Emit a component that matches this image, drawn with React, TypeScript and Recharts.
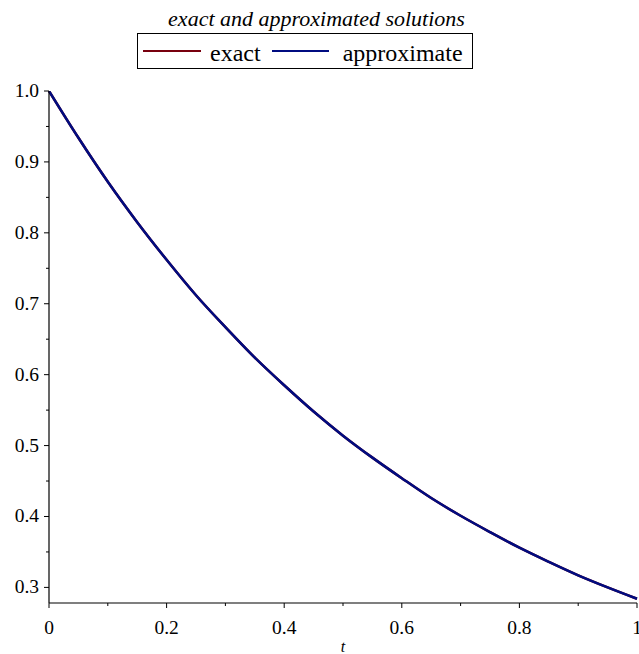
import React from 'react';
import { LineChart, Line, XAxis, YAxis, Legend } from 'recharts';

// values, t = 0 .. 1
const tValues = [0, 0.05, 0.1, 0.15, 0.2, 0.25, 0.3, 0.35, 0.4, 0.45, 0.5, 0.55, 0.6, 0.65, 0.7, 0.75, 0.8, 0.85, 0.9, 0.95, 1];
const exactValues = [1.0, 0.934, 0.872, 0.815, 0.762, 0.712, 0.667, 0.624, 0.585, 0.548, 0.514, 0.483, 0.454, 0.426, 0.401, 0.378, 0.356, 0.336, 0.317, 0.3, 0.284];
const approxValues = [1.0, 0.934, 0.872, 0.815, 0.762, 0.712, 0.667, 0.624, 0.585, 0.548, 0.514, 0.483, 0.454, 0.426, 0.401, 0.378, 0.356, 0.336, 0.317, 0.3, 0.284];

const xMajor = [0, 0.2, 0.4, 0.6, 0.8, 1];
const xMinor = [0.1, 0.3, 0.5, 0.7, 0.9];
const yMajor = [0.3, 0.4, 0.5, 0.6, 0.7, 0.8, 0.9, 1.0];
const yMinor = [0.35, 0.45, 0.55, 0.65, 0.75, 0.85, 0.95];

const EXACT = '#78000E';
const APPROX = '#000C80';
const FONT = 'Liberation Serif, Times New Roman, Times, serif';

const rows = tValues.map((t, i) => ({ t, exact: exactValues[i], approximate: approxValues[i] }));

const isMajor = (v: number, list: number[]) => list.some((m) => Math.abs(m - v) < 1e-6);

function XTick(props: any) {
  const { x, y, payload } = props;
  const major = isMajor(payload.value, xMajor);
  const label = payload.value === 0 ? '0' : payload.value === 1 ? '1' : payload.value.toFixed(1);
  return (
    <g>
      <line x1={x} x2={x} y1={y} y2={y + (major ? 5 : 3)} stroke="#000" strokeWidth={1} />
      {major && (
        <text x={x} y={y + 31} textAnchor="middle" fontFamily={FONT} fontSize={19.5} fill="#000">
          {label}
        </text>
      )}
    </g>
  );
}

function YTick(props: any) {
  const { x, y, payload } = props;
  const major = isMajor(payload.value, yMajor);
  return (
    <g>
      <line x1={x} x2={x - (major ? 5 : 3)} y1={y} y2={y} stroke="#000" strokeWidth={1} />
      {major && (
        <text x={x - 10} y={y + 6} textAnchor="end" fontFamily={FONT} fontSize={19.5} fill="#000">
          {payload.value.toFixed(1)}
        </text>
      )}
    </g>
  );
}

function LegendBox() {
  return (
    <div style={{ width: 639, height: 70, position: 'relative', color: '#000', fontFamily: FONT }}>
      <div
        style={{
          position: 'absolute',
          top: 8,
          left: 0,
          width: 633,
          textAlign: 'center',
          fontStyle: 'italic',
          fontSize: 22,
          lineHeight: '22px',
        }}
      >
        exact and approximated solutions
      </div>
      <div
        style={{
          position: 'absolute',
          top: 33,
          left: 137,
          width: 336,
          height: 36,
          border: '1.5px solid #000',
          display: 'flex',
          alignItems: 'center',
          fontSize: 24,
          boxSizing: 'border-box',
        }}
      >
        <span style={{ display: 'inline-block', width: 58, height: 2.5, background: EXACT, marginLeft: 5 }} />
        <span style={{ marginLeft: 9, position: 'relative', top: 2 }}>exact</span>
        <span style={{ display: 'inline-block', width: 57, height: 2.5, background: APPROX, marginLeft: 11 }} />
        <span style={{ marginLeft: 14, position: 'relative', top: 2 }}>approximate</span>
      </div>
    </div>
  );
}

export default function App() {
  return (
    <div style={{ position: 'absolute', left: 0, top: 0, fontFamily: FONT }}>
      <LineChart width={639} height={654} data={rows} margin={{ top: 21, right: 2, bottom: 0, left: 0 }}>
        <Legend verticalAlign="top" align="left" content={() => <LegendBox />} wrapperStyle={{ top: 0, left: 0 }} />
        <XAxis
          dataKey="t"
          type="number"
          domain={[0, 1]}
          ticks={[...xMajor, ...xMinor].sort((a, b) => a - b)}
          tick={<XTick />}
          tickLine={false}
          tickSize={0}
          tickMargin={0}
          height={51}
          axisLine={{ stroke: '#000', strokeWidth: 1.2 }}
          interval={0}
          label={{
            value: 't',
            position: 'insideBottom',
            offset: 2,
            fontFamily: FONT,
            fontStyle: 'italic',
            fontSize: 16,
            fill: '#000',
          }}
        />
        <YAxis
          type="number"
          domain={[0.278, 1.0]}
          ticks={[...yMajor, ...yMinor].sort((a, b) => a - b)}
          tick={<YTick />}
          tickLine={false}
          tickSize={0}
          tickMargin={0}
          width={49}
          axisLine={{ stroke: '#000', strokeWidth: 1.2 }}
          interval={0}
          allowDataOverflow
        />
        <Line type="monotone" dataKey="exact" stroke={EXACT} strokeWidth={2.5} dot={false} isAnimationActive={false} />
        <Line type="monotone" dataKey="approximate" stroke={APPROX} strokeWidth={2.5} dot={false} isAnimationActive={false} />
      </LineChart>
    </div>
  );
}
